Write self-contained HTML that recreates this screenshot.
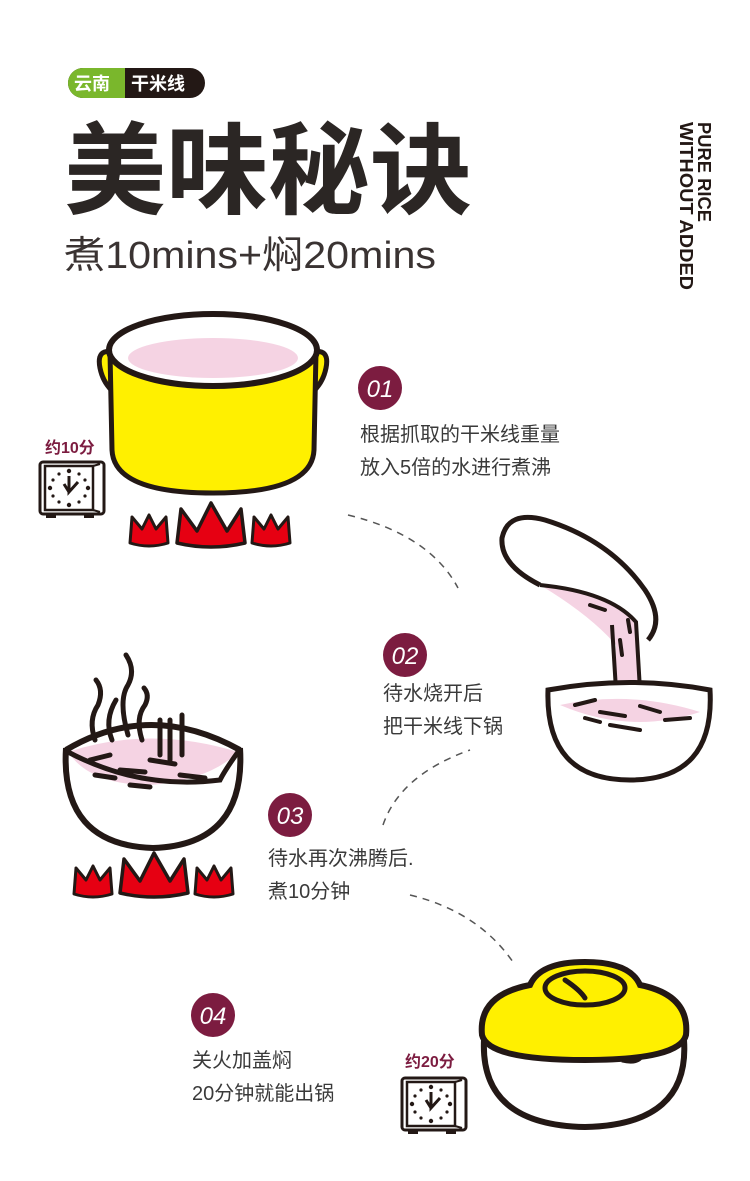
<!DOCTYPE html>
<html><head><meta charset="utf-8"><style>
html,body{margin:0;padding:0;background:#fff;}
svg{display:block}
.cn{font-family:"Liberation Sans","Noto Sans CJK SC",sans-serif;}
</style></head><body>
<svg width="750" height="1181" viewBox="0 0 750 1181" xmlns="http://www.w3.org/2000/svg" class="cn">
<defs>
<g id="clock">
  <rect x="0" y="0" width="64" height="52" rx="3" fill="#fff" stroke="#231815" stroke-width="3"/>
  <rect x="5" y="4" width="48" height="44" fill="#fff" stroke="#231815" stroke-width="2.5"/>
  <path d="M53,4 L60,2 M53,48 L60,50" stroke="#231815" stroke-width="2"/>
  <rect x="6" y="51" width="10" height="5" fill="#231815"/><rect x="44" y="51" width="10" height="5" fill="#231815"/>
  <g fill="#231815">
    <circle cx="29" cy="9" r="2.2"/><circle cx="29" cy="43" r="2.2"/><circle cx="10" cy="26" r="2.2"/><circle cx="48" cy="26" r="2.2"/>
    <circle cx="19" cy="12" r="1.6"/><circle cx="39" cy="12" r="1.6"/><circle cx="19" cy="40" r="1.6"/><circle cx="39" cy="40" r="1.6"/>
    <circle cx="13" cy="18" r="1.6"/><circle cx="45" cy="18" r="1.6"/><circle cx="13" cy="34" r="1.6"/><circle cx="45" cy="34" r="1.6"/>
  </g>
  <path d="M29,14 L29,30 L38,20 M24,22 L29,30" stroke="#231815" stroke-width="3" fill="none"/>
</g>
<g id="fs"><path d="M2,36 L4,10 L14,22 L21,8 L28,22 L38,10 L40,36 Q21,42 2,36Z" fill="#e60012" stroke="#231815" stroke-width="3" stroke-linejoin="round"/></g>
<g id="fb"><path d="M2,40 L6,6 L22,28 L36,0 L52,28 L66,6 L70,40 Q36,48 2,40Z" fill="#e60012" stroke="#231815" stroke-width="3.5" stroke-linejoin="round"/></g>
</defs>

<!-- badge -->
<rect x="68" y="68" width="137" height="30" rx="15" fill="#231815"/>
<path d="M83,68 L125,68 L125,98 L83,98 A15,15 0 0 1 83,68Z" fill="#7ab72c"/>
<text x="74" y="90" font-size="18" font-weight="bold" fill="#fff">云南</text>
<text x="131" y="90" font-size="18" font-weight="bold" fill="#fff">干米线</text>

<text x="64" y="206" font-size="100" font-weight="bold" fill="#2b2624" textLength="408" lengthAdjust="spacingAndGlyphs">美味秘诀</text>
<text x="64" y="268" font-size="38" fill="#3a3332" textLength="372" lengthAdjust="spacingAndGlyphs">煮10mins+焖20mins</text>

<text transform="translate(698,122) rotate(90)" font-size="18" font-weight="bold" fill="#231815" textLength="100" lengthAdjust="spacingAndGlyphs">PURE RICE</text>
<text transform="translate(680,122) rotate(90)" font-size="18" font-weight="bold" fill="#231815" textLength="168" lengthAdjust="spacingAndGlyphs">WITHOUT ADDED</text>

<!-- pot -->
<path d="M114,352 Q96,348 100,368 Q104,388 122,398 L122,384 Q110,375 114,362Z" fill="#fff000" stroke="#231815" stroke-width="5" stroke-linejoin="round"/>
<path d="M312,352 Q330,348 326,368 Q322,388 304,398 L304,384 Q316,375 312,362Z" fill="#fff000" stroke="#231815" stroke-width="5" stroke-linejoin="round"/>
<path d="M110,352 L112,450 Q114,493 213,493 Q312,493 314,450 L316,352 Z" fill="#fff000" stroke="#231815" stroke-width="5"/>
<ellipse cx="213" cy="350" rx="104" ry="36" fill="#fff" stroke="#231815" stroke-width="6"/>
<ellipse cx="213" cy="358" rx="85" ry="20" fill="#f5d3e3"/>

<text x="45" y="453" font-size="16" font-weight="bold" fill="#7c1c40">约10分</text>
<use href="#clock" x="40" y="462"/>
<use href="#fs" x="128" y="507"/>
<use href="#fb" x="175" y="503"/>
<use href="#fs" x="250" y="507"/>

<!-- step1 -->
<circle cx="380" cy="388" r="22" fill="#7c1c40"/>
<text x="380" y="397" font-size="24" font-style="italic" fill="#fff" text-anchor="middle">01</text>
<text x="360" y="441" font-size="20" fill="#3a3a3a">根据抓取的干米线重量</text>
<text x="360" y="474" font-size="20" fill="#3a3a3a">放入5倍的水进行煮沸</text>

<g fill="none" stroke="#555" stroke-width="1.5" stroke-dasharray="7,6">
<path d="M348,515 Q430,535 458,588"/>
<path d="M383,825 Q400,775 470,750"/>
<path d="M410,895 Q480,912 515,965"/>
</g>

<!-- pour bowl -->
<path d="M540,585 Q500,565 502,538 Q508,510 545,520 Q610,540 645,590 Q665,620 648,640" fill="#fff" stroke="#231815" stroke-width="5" stroke-linejoin="round"/>
<path d="M540,585 Q600,590 635,620 L640,690 L615,690 L616,645 Q590,615 540,585Z" fill="#f5d3e3"/>
<path d="M540,585 Q610,592 636,622 L640,690 M612,625 L616,690" fill="none" stroke="#231815" stroke-width="4"/>
<path d="M548,690 Q630,675 710,690 Q715,780 630,780 Q545,780 548,690Z" fill="#fff" stroke="#231815" stroke-width="5"/>
<path d="M560,705 Q630,690 700,712 Q630,735 560,705Z" fill="#f5d3e3"/>
<g stroke="#231815" stroke-width="4" stroke-linecap="round">
<path d="M575,705 L595,700 M600,712 L625,716 M640,706 L660,712 M665,720 L690,718 M610,725 L640,730 M585,718 L600,722"/>
<path d="M590,605 L605,610 M620,640 L622,655 M628,620 L630,632"/>
</g>

<!-- step2 -->
<circle cx="405" cy="655" r="22" fill="#7c1c40"/>
<text x="405" y="664" font-size="24" font-style="italic" fill="#fff" text-anchor="middle">02</text>
<text x="383" y="700" font-size="20" fill="#3a3a3a">待水烧开后</text>
<text x="383" y="733" font-size="20" fill="#3a3a3a">把干米线下锅</text>

<!-- steam bowl -->
<path d="M66,748 Q60,845 153,848 Q246,845 240,748" fill="#fff" stroke="#231815" stroke-width="6"/>
<path d="M68,752 Q150,725 238,752 Q210,780 150,785 Q90,785 68,752Z" fill="#f5d3e3"/>
<path d="M66,750 Q150,700 240,750" fill="none" stroke="#231815" stroke-width="6"/>
<path d="M68,752 Q140,790 220,780 Q225,770 238,752" fill="none" stroke="#231815" stroke-width="5"/>
<g stroke="#231815" stroke-width="5" fill="none" stroke-linecap="round">
<path d="M90,760 L110,755 M120,770 L145,772 M150,760 L175,764 M95,775 L115,778 M180,775 L205,778 M130,785 L150,787"/>
<path d="M95,740 Q88,720 98,705 Q104,690 96,680"/>
<path d="M112,740 Q104,720 116,700"/>
<path d="M128,735 Q118,700 128,685 Q136,670 126,655"/>
<path d="M142,740 Q135,718 145,705 Q150,695 144,688"/>
<path d="M160,720 L160,755 M170,720 L170,760 M182,715 L182,755"/>
</g>
<use href="#fs" x="72" y="858"/>
<use href="#fb" x="118" y="853"/>
<use href="#fs" x="193" y="858"/>

<!-- step3 -->
<circle cx="290" cy="815" r="22" fill="#7c1c40"/>
<text x="290" y="824" font-size="24" font-style="italic" fill="#fff" text-anchor="middle">03</text>
<text x="268" y="865" font-size="20" fill="#3a3a3a">待水再次沸腾后.</text>
<text x="268" y="898" font-size="20" fill="#3a3a3a">煮10分钟</text>

<!-- step4 -->
<circle cx="213" cy="1015" r="22" fill="#7c1c40"/>
<text x="213" y="1024" font-size="24" font-style="italic" fill="#fff" text-anchor="middle">04</text>
<text x="192" y="1067" font-size="20" fill="#3a3a3a">关火加盖焖</text>
<text x="192" y="1100" font-size="20" fill="#3a3a3a">20分钟就能出锅</text>

<text x="405" y="1067" font-size="16" font-weight="bold" fill="#7c1c40">约20分</text>
<use href="#clock" x="402" y="1078"/>

<!-- lidded pot -->
<path d="M484,1040 Q480,1125 585,1127 Q690,1125 684,1040 Z" fill="#fff" stroke="#231815" stroke-width="6"/>
<path d="M482,1035 Q478,995 530,985 Q540,962 585,962 Q630,962 640,985 Q690,995 686,1035 Q680,1060 585,1060 Q488,1060 482,1035Z" fill="#fff000" stroke="#231815" stroke-width="6"/>
<ellipse cx="585" cy="988" rx="40" ry="17" fill="#fff000" stroke="#231815" stroke-width="5"/>
<path d="M565,980 Q580,990 585,998" fill="none" stroke="#231815" stroke-width="5" stroke-linecap="round"/>
<path d="M622,1060 Q635,1063 640,1058" fill="none" stroke="#231815" stroke-width="5"/>
</svg>
</body></html>
